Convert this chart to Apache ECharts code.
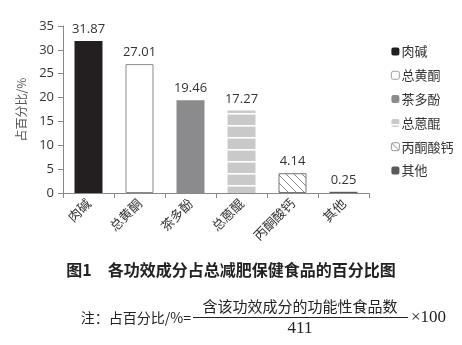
<!DOCTYPE html>
<html><head><meta charset="utf-8">
<script src="https://cdn.jsdelivr.net/npm/echarts@6/dist/echarts.min.js"></script>
<style>html,body{margin:0;padding:0;background:#fff}#c{width:462px;height:345px}</style>
</head><body><div id="c"></div>
<script>
var categories = ['肉碱','总黄酮','茶多酚','总蒽醌','丙酮酸钙','其他'];
var values = [31.87, 27.01, 19.46, 17.27, 4.14, 0.25];
var yTicks = [0,5,10,15,20,25,30,35];
var titleText = '图1　各功效成分占总减肥保健食品的百分比图';
var noteLeft = '注：占百分比/%=';
var noteNum = '含该功效成分的功能性食品数';
var noteDen = '411';
var noteRight = '×100';

function stripePattern(){
  var c=document.createElement('canvas');c.width=12;c.height=12;
  var g=c.getContext('2d');g.fillStyle='#c9c9c9';g.fillRect(0,0,12,12);
  g.fillStyle='#ffffff';g.fillRect(0,5,12,1.6);return c;
}
function hatchPattern(){
  var c=document.createElement('canvas');c.width=8;c.height=8;
  var g=c.getContext('2d');g.fillStyle='#fff';g.fillRect(0,0,8,8);
  g.strokeStyle='#666';g.lineWidth=0.8;
  g.beginPath();g.moveTo(0,0);g.lineTo(8,8);g.moveTo(-4,4);g.lineTo(4,12);g.moveTo(4,-4);g.lineTo(12,4);g.stroke();return c;
}
var styles = [
  {color:'#231f20'},
  {color:'#ffffff', borderColor:'#8a8a8a', borderWidth:1},
  {color:'#8b8b8d'},
  {color:{image:stripePattern(), repeat:'repeat'}},
  {color:{image:hatchPattern(), repeat:'repeat'}, borderColor:'#777', borderWidth:1},
  {color:'#5a5a5a'}
];
var series = categories.map(function(name,i){
  var d = categories.map(function(_,j){return j===i?values[i]:'-';});
  return {name:name,type:'bar',stack:'t',data:d,barWidth:28,itemStyle:styles[i],
    label:{show:true,position:'top',distance:5,color:'#333',fontSize:13,fontFamily:'Open Sans',formatter:function(p){return p.value.toFixed(2);}}};
});
var chart = echarts.init(document.getElementById('c'));
chart.setOption({
  animation:false,
  grid:{left:63,right:93,top:26,bottom:152},
  legend:{orient:'vertical',left:386,top:40,itemWidth:8,itemHeight:8,itemGap:10.8,
    itemStyle:{borderWidth:0.8},
    textStyle:{fontSize:13,color:'#333',fontFamily:'Noto Sans CJK SC',padding:[0,0,0,-3]},
    data:categories},
  xAxis:{type:'category',data:categories,
    axisLine:{lineStyle:{color:'#888'}},axisTick:{show:true,length:5,lineStyle:{color:'#888'}},
    axisLabel:{rotate:45,fontSize:13,color:'#333',margin:8,fontFamily:'Noto Sans CJK SC'}},
  yAxis:{type:'value',min:0,max:35,interval:5,splitLine:{show:false},
    name:'占百分比/%',nameLocation:'middle',nameGap:36,nameRotate:90,
    nameTextStyle:{fontSize:12,color:'#555',fontFamily:'Noto Sans CJK SC'},
    axisLine:{show:true,lineStyle:{color:'#888'}},axisTick:{show:true,length:5,lineStyle:{color:'#888'}},
    axisLabel:{fontSize:13,color:'#333',margin:9,fontFamily:'Open Sans'}},
  series:series,
  graphic:[
    {type:'text',left:'center',top:262,style:{text:titleText,fontSize:16,fontWeight:'bold',fill:'#222',fontFamily:'Noto Sans CJK SC'}},
    {type:'text',x:191,y:318,style:{text:noteLeft,fontSize:14,fill:'#222',align:'right',verticalAlign:'middle',textAlign:'right',textVerticalAlign:'middle',fontFamily:'Noto Sans CJK SC'}},
    {type:'text',x:300,y:306,style:{text:noteNum,fontSize:15,fill:'#222',align:'center',verticalAlign:'middle',textAlign:'center',textVerticalAlign:'middle',fontFamily:'Noto Sans CJK SC'}},
    {type:'line',shape:{x1:193,y1:317.5,x2:408,y2:317.5},style:{stroke:'#222',lineWidth:1}},
    {type:'text',x:300,y:329,style:{text:noteDen,fontSize:17,fill:'#222',align:'center',verticalAlign:'middle',textAlign:'center',textVerticalAlign:'middle',fontFamily:'Liberation Serif'}},
    {type:'text',x:411,y:318,style:{text:noteRight,fontSize:17,fill:'#222',verticalAlign:'middle',textVerticalAlign:'middle',fontFamily:'Liberation Serif'}}
  ]
});
</script></body></html>
